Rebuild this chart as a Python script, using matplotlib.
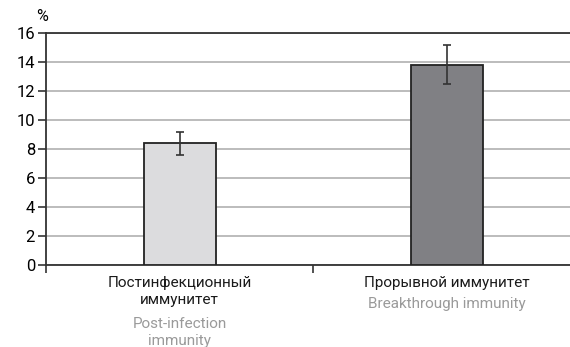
import numpy as np
import matplotlib.pyplot as plt
from matplotlib.ticker import FixedLocator

plt.rcParams['font.family'] = ['Roboto', 'DejaVu Sans']

labels_ru = ["Постинфекционный\nиммунитет", "Прорывной иммунитет"]
labels_en = ["Post-infection\nimmunity", "Breakthrough immunity"]
values = [8.4, 13.8]
errors = [0.8, 1.35]
colors = ["#dcdcde", "#808084"]

fig = plt.figure(figsize=(5.7, 3.47), dpi=100)
ax = fig.add_axes([0.081, 0.236, 0.937, 0.669])

x = np.arange(len(values))
ax.bar(x, values, width=0.27, color=colors, edgecolor="#222222", linewidth=1.3, zorder=3)
ax.errorbar(x, values, yerr=errors, fmt="none", ecolor="#333333", elinewidth=1.2,
            capsize=3, capthick=1.2, zorder=4)

ax.set_xlim(-0.5, 1.5)
ax.set_ylim(0, 16)
ax.set_yticks(np.arange(0, 17, 2))
ax.yaxis.grid(True, color="#b0b0b0", linewidth=1.2, zorder=0)
ax.set_axisbelow(True)

for side in ["left", "bottom", "top"]:
    ax.spines[side].set_color("#333333")
    ax.spines[side].set_linewidth(1.3)
ax.spines["right"].set_visible(False)

ax.tick_params(axis="y", direction="out", length=6, width=1.2, color="#333333",
               labelsize=12, pad=2)
ax.set_xticks(x)
ax.set_xticklabels([])
ax.tick_params(axis="x", which="major", length=0)
ax.xaxis.set_minor_locator(FixedLocator([-0.5, 0.5]))
ax.tick_params(axis="x", which="minor", direction="out", length=6, width=1.2, color="#333333")

# Russian caption in black, English translation in grey underneath
line_h = 14.8
for xi, ru, en in zip(x, labels_ru, labels_en):
    n_ru = ru.count("\n") + 1
    ax.annotate(ru, (xi, 0), xytext=(0, -8), textcoords="offset points",
                xycoords=("data", "axes fraction"), ha="center", va="top",
                fontsize=11, color="#1a1a1a", linespacing=1.25)
    ax.annotate(en, (xi, 0), xytext=(0, -8 - line_h * n_ru), textcoords="offset points",
                xycoords=("data", "axes fraction"), ha="center", va="top",
                fontsize=11, color="#9a9a9a", linespacing=1.25)

ax.text(-0.008, 1.04, "%", transform=ax.transAxes, ha="center", va="bottom", fontsize=11.5)

fig.savefig("out.png", dpi=100)
